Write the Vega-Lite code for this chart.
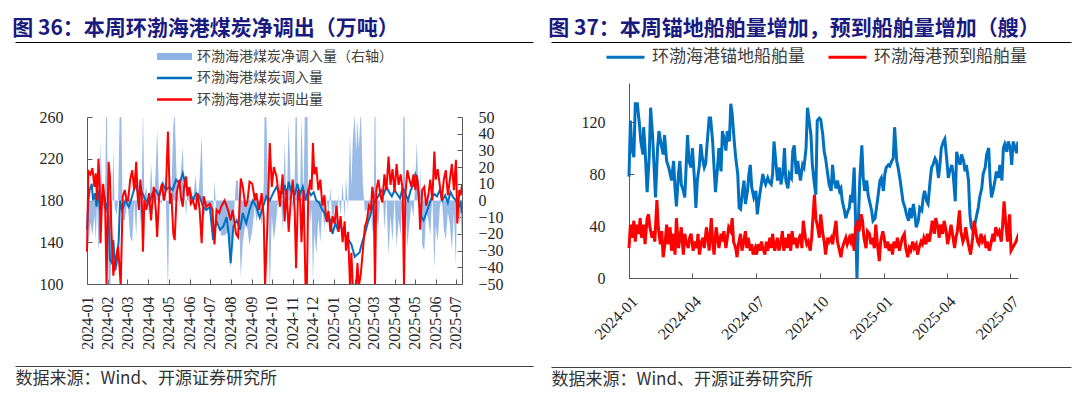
{
"$schema":"https://vega.github.io/schema/vega-lite/v6.json",
"background":"white",
"padding":{"left":12,"top":18,"right":0,"bottom":0},
"config":{"view":{"stroke":null},"font":"Noto Sans CJK SC",
"axis":{"domainColor":"#595959","tickColor":"#595959","labelFont":"Liberation Serif","labelFontSize":16,"labelColor":"#262626","grid":false,"tickSize":-5,"labelOverlap":false,"labelFlush":false,"labelBound":false}},
"datasets":{
"inflow":[{"d":"2024-01-01","v":152},{"d":"2024-01-03","v":180},{"d":"2024-01-05","v":190},{"d":"2024-01-08","v":196},{"d":"2024-01-10","v":180},{"d":"2024-01-13","v":187},{"d":"2024-01-15","v":174},{"d":"2024-01-18","v":190},{"d":"2024-01-20","v":171},{"d":"2024-01-23","v":184},{"d":"2024-01-25","v":190},{"d":"2024-01-28","v":180},{"d":"2024-01-30","v":174},{"d":"2024-02-02","v":164},{"d":"2024-02-04","v":123},{"d":"2024-02-07","v":120},{"d":"2024-02-09","v":142},{"d":"2024-02-12","v":113},{"d":"2024-02-14","v":120},{"d":"2024-02-17","v":142},{"d":"2024-02-19","v":180},{"d":"2024-02-22","v":171},{"d":"2024-02-24","v":174},{"d":"2024-02-27","v":180},{"d":"2024-03-03","v":174},{"d":"2024-03-08","v":184},{"d":"2024-03-13","v":196},{"d":"2024-03-18","v":184},{"d":"2024-03-23","v":187},{"d":"2024-03-28","v":180},{"d":"2024-04-02","v":177},{"d":"2024-04-07","v":187},{"d":"2024-04-12","v":190},{"d":"2024-04-17","v":184},{"d":"2024-04-22","v":196},{"d":"2024-04-27","v":190},{"d":"2024-05-02","v":193},{"d":"2024-05-07","v":190},{"d":"2024-05-12","v":200},{"d":"2024-05-17","v":196},{"d":"2024-05-22","v":206},{"d":"2024-05-27","v":193},{"d":"2024-06-01","v":190},{"d":"2024-06-06","v":180},{"d":"2024-06-11","v":187},{"d":"2024-06-16","v":184},{"d":"2024-06-21","v":174},{"d":"2024-06-26","v":171},{"d":"2024-07-01","v":174},{"d":"2024-07-06","v":142},{"d":"2024-07-11","v":161},{"d":"2024-07-16","v":152},{"d":"2024-07-21","v":155},{"d":"2024-07-26","v":164},{"d":"2024-07-29","v":148},{"d":"2024-08-01","v":120},{"d":"2024-08-05","v":155},{"d":"2024-08-10","v":161},{"d":"2024-08-15","v":152},{"d":"2024-08-19","v":168},{"d":"2024-08-24","v":158},{"d":"2024-08-29","v":171},{"d":"2024-09-03","v":180},{"d":"2024-09-08","v":174},{"d":"2024-09-13","v":164},{"d":"2024-09-18","v":174},{"d":"2024-09-23","v":184},{"d":"2024-09-28","v":180},{"d":"2024-10-03","v":187},{"d":"2024-10-08","v":193},{"d":"2024-10-13","v":187},{"d":"2024-10-17","v":187},{"d":"2024-10-20","v":195},{"d":"2024-10-23","v":185},{"d":"2024-10-26","v":198},{"d":"2024-10-29","v":190},{"d":"2024-11-01","v":192},{"d":"2024-11-04","v":185},{"d":"2024-11-08","v":196},{"d":"2024-11-12","v":186},{"d":"2024-11-16","v":193},{"d":"2024-11-20","v":180},{"d":"2024-11-24","v":190},{"d":"2024-11-28","v":185},{"d":"2024-12-02","v":188},{"d":"2024-12-06","v":180},{"d":"2024-12-10","v":178},{"d":"2024-12-14","v":172},{"d":"2024-12-18","v":168},{"d":"2024-12-22","v":160},{"d":"2024-12-26","v":162},{"d":"2024-12-30","v":148},{"d":"2025-01-03","v":158},{"d":"2025-01-07","v":152},{"d":"2025-01-11","v":156},{"d":"2025-01-15","v":150},{"d":"2025-01-19","v":146},{"d":"2025-01-23","v":142},{"d":"2025-01-27","v":138},{"d":"2025-02-01","v":126},{"d":"2025-02-04","v":128},{"d":"2025-02-08","v":130},{"d":"2025-02-12","v":140},{"d":"2025-02-16","v":148},{"d":"2025-02-20","v":158},{"d":"2025-02-24","v":166},{"d":"2025-02-28","v":175},{"d":"2025-03-04","v":180},{"d":"2025-03-08","v":184},{"d":"2025-03-12","v":190},{"d":"2025-03-16","v":186},{"d":"2025-03-20","v":193},{"d":"2025-03-24","v":188},{"d":"2025-03-28","v":184},{"d":"2025-04-01","v":190},{"d":"2025-04-05","v":186},{"d":"2025-04-09","v":182},{"d":"2025-04-13","v":192},{"d":"2025-04-17","v":187},{"d":"2025-04-21","v":180},{"d":"2025-04-25","v":190},{"d":"2025-04-29","v":195},{"d":"2025-05-02","v":205},{"d":"2025-05-05","v":200},{"d":"2025-05-08","v":175},{"d":"2025-05-11","v":164},{"d":"2025-05-14","v":161},{"d":"2025-05-18","v":168},{"d":"2025-05-22","v":175},{"d":"2025-05-26","v":183},{"d":"2025-05-30","v":186},{"d":"2025-06-03","v":184},{"d":"2025-06-07","v":190},{"d":"2025-06-11","v":180},{"d":"2025-06-15","v":185},{"d":"2025-06-19","v":178},{"d":"2025-06-23","v":188},{"d":"2025-06-27","v":183},{"d":"2025-07-01","v":180},{"d":"2025-07-05","v":174},{"d":"2025-07-08","v":178},{"d":"2025-07-10","v":168}],
"outflow":[{"d":"2024-01-01","v":131},{"d":"2024-01-03","v":208},{"d":"2024-01-06","v":205},{"d":"2024-01-09","v":211},{"d":"2024-01-12","v":193},{"d":"2024-01-14","v":206},{"d":"2024-01-16","v":180},{"d":"2024-01-18","v":220},{"d":"2024-01-20","v":193},{"d":"2024-01-21","v":139},{"d":"2024-01-23","v":174},{"d":"2024-01-25","v":196},{"d":"2024-01-28","v":171},{"d":"2024-01-30","v":98},{"d":"2024-02-02","v":217},{"d":"2024-02-04","v":203},{"d":"2024-02-06","v":155},{"d":"2024-02-09","v":108},{"d":"2024-02-11","v":120},{"d":"2024-02-14","v":129},{"d":"2024-02-16","v":136},{"d":"2024-02-18","v":118},{"d":"2024-02-20","v":98},{"d":"2024-02-23","v":184},{"d":"2024-02-26","v":190},{"d":"2024-02-29","v":180},{"d":"2024-03-02","v":180},{"d":"2024-03-05","v":200},{"d":"2024-03-08","v":209},{"d":"2024-03-11","v":190},{"d":"2024-03-14","v":217},{"d":"2024-03-16","v":185},{"d":"2024-03-18","v":171},{"d":"2024-03-20","v":200},{"d":"2024-03-22","v":187},{"d":"2024-03-24","v":131},{"d":"2024-03-26","v":180},{"d":"2024-03-29","v":171},{"d":"2024-04-02","v":187},{"d":"2024-04-05","v":161},{"d":"2024-04-07","v":180},{"d":"2024-04-09","v":193},{"d":"2024-04-12","v":171},{"d":"2024-04-14","v":145},{"d":"2024-04-17","v":184},{"d":"2024-04-21","v":196},{"d":"2024-04-24","v":180},{"d":"2024-04-27","v":190},{"d":"2024-04-30","v":246},{"d":"2024-05-03","v":177},{"d":"2024-05-05","v":187},{"d":"2024-05-08","v":148},{"d":"2024-05-10","v":142},{"d":"2024-05-13","v":187},{"d":"2024-05-17","v":200},{"d":"2024-05-19","v":184},{"d":"2024-05-22","v":174},{"d":"2024-05-24","v":193},{"d":"2024-05-27","v":203},{"d":"2024-05-29","v":184},{"d":"2024-06-01","v":193},{"d":"2024-06-03","v":177},{"d":"2024-06-06","v":180},{"d":"2024-06-10","v":171},{"d":"2024-06-13","v":187},{"d":"2024-06-16","v":171},{"d":"2024-06-19","v":139},{"d":"2024-06-22","v":184},{"d":"2024-06-26","v":174},{"d":"2024-07-01","v":177},{"d":"2024-07-05","v":171},{"d":"2024-07-08","v":138},{"d":"2024-07-11","v":171},{"d":"2024-07-15","v":168},{"d":"2024-07-18","v":174},{"d":"2024-07-23","v":180},{"d":"2024-07-28","v":171},{"d":"2024-08-01","v":161},{"d":"2024-08-04","v":171},{"d":"2024-08-09","v":148},{"d":"2024-08-12","v":145},{"d":"2024-08-16","v":201},{"d":"2024-08-19","v":193},{"d":"2024-08-23","v":174},{"d":"2024-08-26","v":180},{"d":"2024-08-29","v":198},{"d":"2024-09-02","v":196},{"d":"2024-09-06","v":180},{"d":"2024-09-08","v":187},{"d":"2024-09-12","v":171},{"d":"2024-09-16","v":187},{"d":"2024-09-19","v":164},{"d":"2024-09-21","v":98},{"d":"2024-09-24","v":148},{"d":"2024-09-28","v":235},{"d":"2024-10-01","v":193},{"d":"2024-10-04","v":212},{"d":"2024-10-08","v":203},{"d":"2024-10-13","v":174},{"d":"2024-10-17","v":205},{"d":"2024-10-20","v":160},{"d":"2024-10-23","v":190},{"d":"2024-10-26","v":150},{"d":"2024-10-29","v":180},{"d":"2024-11-01","v":200},{"d":"2024-11-04","v":170},{"d":"2024-11-06","v":115},{"d":"2024-11-09","v":190},{"d":"2024-11-12","v":180},{"d":"2024-11-14","v":140},{"d":"2024-11-17","v":190},{"d":"2024-11-20","v":98},{"d":"2024-11-22","v":98},{"d":"2024-11-24","v":185},{"d":"2024-11-27","v":200},{"d":"2024-11-29","v":190},{"d":"2024-12-01","v":235},{"d":"2024-12-03","v":205},{"d":"2024-12-06","v":212},{"d":"2024-12-09","v":190},{"d":"2024-12-12","v":200},{"d":"2024-12-15","v":175},{"d":"2024-12-18","v":185},{"d":"2024-12-21","v":160},{"d":"2024-12-24","v":170},{"d":"2024-12-27","v":150},{"d":"2024-12-30","v":165},{"d":"2025-01-02","v":158},{"d":"2025-01-05","v":175},{"d":"2025-01-08","v":150},{"d":"2025-01-11","v":165},{"d":"2025-01-14","v":140},{"d":"2025-01-17","v":160},{"d":"2025-01-19","v":132},{"d":"2025-01-22","v":150},{"d":"2025-01-25","v":98},{"d":"2025-01-27","v":130},{"d":"2025-01-29","v":98},{"d":"2025-02-01","v":98},{"d":"2025-02-03","v":98},{"d":"2025-02-05","v":120},{"d":"2025-02-07","v":98},{"d":"2025-02-10","v":110},{"d":"2025-02-13","v":132},{"d":"2025-02-16","v":155},{"d":"2025-02-19","v":161},{"d":"2025-02-22","v":175},{"d":"2025-02-25","v":171},{"d":"2025-02-27","v":193},{"d":"2025-03-01","v":185},{"d":"2025-03-03","v":98},{"d":"2025-03-05","v":190},{"d":"2025-03-08","v":200},{"d":"2025-03-11","v":185},{"d":"2025-03-14","v":178},{"d":"2025-03-17","v":205},{"d":"2025-03-20","v":190},{"d":"2025-03-23","v":222},{"d":"2025-03-26","v":195},{"d":"2025-03-29","v":210},{"d":"2025-04-01","v":188},{"d":"2025-04-04","v":215},{"d":"2025-04-07","v":195},{"d":"2025-04-10","v":205},{"d":"2025-04-13","v":190},{"d":"2025-04-15","v":98},{"d":"2025-04-17","v":185},{"d":"2025-04-20","v":209},{"d":"2025-04-23","v":200},{"d":"2025-04-26","v":193},{"d":"2025-04-29","v":205},{"d":"2025-05-02","v":190},{"d":"2025-05-04","v":204},{"d":"2025-05-07","v":185},{"d":"2025-05-09","v":152},{"d":"2025-05-12","v":190},{"d":"2025-05-15","v":193},{"d":"2025-05-18","v":175},{"d":"2025-05-21","v":185},{"d":"2025-05-24","v":200},{"d":"2025-05-27","v":180},{"d":"2025-05-30","v":227},{"d":"2025-06-01","v":200},{"d":"2025-06-04","v":210},{"d":"2025-06-07","v":195},{"d":"2025-06-10","v":180},{"d":"2025-06-13","v":200},{"d":"2025-06-16","v":209},{"d":"2025-06-19","v":185},{"d":"2025-06-22","v":200},{"d":"2025-06-25","v":215},{"d":"2025-06-28","v":190},{"d":"2025-07-01","v":219},{"d":"2025-07-03","v":158},{"d":"2025-07-06","v":190},{"d":"2025-07-08","v":185},{"d":"2025-07-10","v":195}],
"net":[{"d":"2024-01-01","v":21},{"d":"2024-01-03","v":-28},{"d":"2024-01-06","v":-13},{"d":"2024-01-09","v":-21},{"d":"2024-01-12","v":-9},{"d":"2024-01-14","v":-24},{"d":"2024-01-16","v":0},{"d":"2024-01-18","v":-30},{"d":"2024-01-20","v":-22},{"d":"2024-01-21","v":36},{"d":"2024-01-23","v":10},{"d":"2024-01-25","v":-6},{"d":"2024-01-28","v":9},{"d":"2024-01-30","v":74},{"d":"2024-02-02","v":-53},{"d":"2024-02-04","v":-60},{"d":"2024-02-06","v":-34},{"d":"2024-02-09","v":32},{"d":"2024-02-11","v":-4},{"d":"2024-02-14","v":-9},{"d":"2024-02-16","v":-1},{"d":"2024-02-18","v":42},{"d":"2024-02-20","v":78},{"d":"2024-02-23","v":-12},{"d":"2024-02-26","v":-12},{"d":"2024-02-29","v":-3},{"d":"2024-03-02","v":-5},{"d":"2024-03-05","v":-22},{"d":"2024-03-08","v":-25},{"d":"2024-03-11","v":0},{"d":"2024-03-14","v":-22},{"d":"2024-03-16","v":4},{"d":"2024-03-18","v":13},{"d":"2024-03-20","v":-15},{"d":"2024-03-22","v":0},{"d":"2024-03-24","v":55},{"d":"2024-03-26","v":3},{"d":"2024-03-29","v":8},{"d":"2024-04-02","v":-10},{"d":"2024-04-05","v":22},{"d":"2024-04-07","v":7},{"d":"2024-04-09","v":-5},{"d":"2024-04-12","v":19},{"d":"2024-04-14","v":43},{"d":"2024-04-17","v":0},{"d":"2024-04-21","v":-2},{"d":"2024-04-24","v":14},{"d":"2024-04-27","v":0},{"d":"2024-04-30","v":-54},{"d":"2024-05-03","v":15},{"d":"2024-05-05","v":4},{"d":"2024-05-08","v":44},{"d":"2024-05-10","v":54},{"d":"2024-05-13","v":12},{"d":"2024-05-17","v":-4},{"d":"2024-05-19","v":16},{"d":"2024-05-22","v":32},{"d":"2024-05-24","v":8},{"d":"2024-05-27","v":-10},{"d":"2024-05-29","v":8},{"d":"2024-06-01","v":-3},{"d":"2024-06-03","v":9},{"d":"2024-06-06","v":0},{"d":"2024-06-10","v":15},{"d":"2024-06-13","v":-1},{"d":"2024-06-16","v":13},{"d":"2024-06-19","v":39},{"d":"2024-06-22","v":-11},{"d":"2024-06-26","v":-3},{"d":"2024-07-01","v":-3},{"d":"2024-07-05","v":-23},{"d":"2024-07-08","v":12},{"d":"2024-07-11","v":-10},{"d":"2024-07-15","v":-14},{"d":"2024-07-18","v":-21},{"d":"2024-07-23","v":-21},{"d":"2024-07-28","v":-19},{"d":"2024-08-01","v":-41},{"d":"2024-08-04","v":-21},{"d":"2024-08-09","v":12},{"d":"2024-08-12","v":12},{"d":"2024-08-16","v":-46},{"d":"2024-08-19","v":-25},{"d":"2024-08-23","v":-14},{"d":"2024-08-26","v":-17},{"d":"2024-08-29","v":-27},{"d":"2024-09-02","v":-18},{"d":"2024-09-06","v":-3},{"d":"2024-09-08","v":-13},{"d":"2024-09-12","v":-5},{"d":"2024-09-16","v":-15},{"d":"2024-09-19","v":10},{"d":"2024-09-21","v":78},{"d":"2024-09-24","v":35},{"d":"2024-09-28","v":-55},{"d":"2024-10-01","v":-9},{"d":"2024-10-04","v":-24},{"d":"2024-10-08","v":-10},{"d":"2024-10-13","v":13},{"d":"2024-10-17","v":-18},{"d":"2024-10-20","v":35},{"d":"2024-10-23","v":-5},{"d":"2024-10-26","v":48},{"d":"2024-10-29","v":10},{"d":"2024-11-01","v":-8},{"d":"2024-11-04","v":15},{"d":"2024-11-06","v":75},{"d":"2024-11-09","v":3},{"d":"2024-11-12","v":6},{"d":"2024-11-14","v":50},{"d":"2024-11-17","v":1},{"d":"2024-11-20","v":80},{"d":"2024-11-22","v":87},{"d":"2024-11-24","v":5},{"d":"2024-11-27","v":-14},{"d":"2024-11-29","v":-4},{"d":"2024-12-01","v":-48},{"d":"2024-12-03","v":-19},{"d":"2024-12-06","v":-32},{"d":"2024-12-09","v":-11},{"d":"2024-12-12","v":-25},{"d":"2024-12-15","v":-4},{"d":"2024-12-18","v":-17},{"d":"2024-12-21","v":2},{"d":"2024-12-24","v":-9},{"d":"2024-12-27","v":8},{"d":"2024-12-30","v":-17},{"d":"2025-01-02","v":-3},{"d":"2025-01-05","v":-20},{"d":"2025-01-08","v":3},{"d":"2025-01-11","v":-9},{"d":"2025-01-14","v":11},{"d":"2025-01-17","v":-12},{"d":"2025-01-19","v":14},{"d":"2025-01-22","v":-6},{"d":"2025-01-25","v":40},{"d":"2025-01-27","v":8},{"d":"2025-01-29","v":36},{"d":"2025-02-01","v":52},{"d":"2025-02-03","v":29},{"d":"2025-02-05","v":48},{"d":"2025-02-07","v":31},{"d":"2025-02-10","v":55},{"d":"2025-02-13","v":10},{"d":"2025-02-16","v":-7},{"d":"2025-02-19","v":-5},{"d":"2025-02-22","v":-13},{"d":"2025-02-25","v":-3},{"d":"2025-02-27","v":-20},{"d":"2025-03-01","v":-9},{"d":"2025-03-03","v":80},{"d":"2025-03-05","v":-9},{"d":"2025-03-08","v":-16},{"d":"2025-03-11","v":4},{"d":"2025-03-14","v":10},{"d":"2025-03-17","v":-18},{"d":"2025-03-20","v":3},{"d":"2025-03-23","v":-33},{"d":"2025-03-26","v":-9},{"d":"2025-03-29","v":-25},{"d":"2025-04-01","v":2},{"d":"2025-04-04","v":-28},{"d":"2025-04-07","v":-11},{"d":"2025-04-10","v":-21},{"d":"2025-04-13","v":2},{"d":"2025-04-15","v":92},{"d":"2025-04-17","v":2},{"d":"2025-04-20","v":-28},{"d":"2025-04-23","v":-14},{"d":"2025-04-26","v":-2},{"d":"2025-04-29","v":-10},{"d":"2025-05-02","v":15},{"d":"2025-05-04","v":35},{"d":"2025-05-07","v":-2},{"d":"2025-05-09","v":20},{"d":"2025-05-12","v":-27},{"d":"2025-05-15","v":-30},{"d":"2025-05-18","v":-7},{"d":"2025-05-21","v":-12},{"d":"2025-05-24","v":-21},{"d":"2025-05-27","v":4},{"d":"2025-05-30","v":-41},{"d":"2025-06-01","v":-15},{"d":"2025-06-04","v":-25},{"d":"2025-06-07","v":-5},{"d":"2025-06-10","v":2},{"d":"2025-06-13","v":-17},{"d":"2025-06-16","v":-24},{"d":"2025-06-19","v":-7},{"d":"2025-06-22","v":-14},{"d":"2025-06-25","v":-30},{"d":"2025-06-28","v":-7},{"d":"2025-07-01","v":-39},{"d":"2025-07-03","v":19},{"d":"2025-07-06","v":-15},{"d":"2025-07-08","v":-7},{"d":"2025-07-10","v":-27}],
"anchor":[{"d":"2024-01-01","v":78},{"d":"2024-01-03","v":121},{"d":"2024-01-05","v":100},{"d":"2024-01-08","v":93},{"d":"2024-01-10","v":134},{"d":"2024-01-13","v":134},{"d":"2024-01-16","v":118},{"d":"2024-01-18","v":105},{"d":"2024-01-21","v":95},{"d":"2024-01-22","v":116},{"d":"2024-01-24","v":100},{"d":"2024-01-27","v":66},{"d":"2024-01-30","v":93},{"d":"2024-02-01","v":131},{"d":"2024-02-04","v":108},{"d":"2024-02-06","v":85},{"d":"2024-02-08","v":62},{"d":"2024-02-11","v":100},{"d":"2024-02-13","v":113},{"d":"2024-02-16","v":103},{"d":"2024-02-19","v":95},{"d":"2024-02-21","v":110},{"d":"2024-02-24","v":90},{"d":"2024-02-27","v":85},{"d":"2024-03-02","v":75},{"d":"2024-03-05","v":90},{"d":"2024-03-07","v":69},{"d":"2024-03-09","v":55},{"d":"2024-03-12","v":80},{"d":"2024-03-14","v":90},{"d":"2024-03-16","v":72},{"d":"2024-03-19","v":67},{"d":"2024-03-21","v":62},{"d":"2024-03-25","v":110},{"d":"2024-03-27","v":90},{"d":"2024-03-30","v":85},{"d":"2024-04-01","v":100},{"d":"2024-04-04","v":75},{"d":"2024-04-06","v":54},{"d":"2024-04-08","v":75},{"d":"2024-04-11","v":87},{"d":"2024-04-13","v":103},{"d":"2024-04-15","v":93},{"d":"2024-04-18","v":85},{"d":"2024-04-20","v":88},{"d":"2024-04-22","v":103},{"d":"2024-04-25","v":123},{"d":"2024-04-27","v":123},{"d":"2024-04-30","v":105},{"d":"2024-05-02","v":85},{"d":"2024-05-04","v":66},{"d":"2024-05-07","v":85},{"d":"2024-05-09","v":100},{"d":"2024-05-12","v":82},{"d":"2024-05-14","v":113},{"d":"2024-05-16","v":108},{"d":"2024-05-19","v":98},{"d":"2024-05-21","v":113},{"d":"2024-05-24","v":105},{"d":"2024-05-26","v":134},{"d":"2024-05-28","v":126},{"d":"2024-05-31","v":105},{"d":"2024-06-02","v":93},{"d":"2024-06-05","v":80},{"d":"2024-06-07","v":54},{"d":"2024-06-09","v":53},{"d":"2024-06-12","v":67},{"d":"2024-06-14","v":75},{"d":"2024-06-16","v":57},{"d":"2024-06-19","v":67},{"d":"2024-06-21","v":80},{"d":"2024-06-23","v":87},{"d":"2024-06-25","v":70},{"d":"2024-06-28","v":62},{"d":"2024-07-01","v":67},{"d":"2024-07-03","v":49},{"d":"2024-07-06","v":62},{"d":"2024-07-08","v":69},{"d":"2024-07-11","v":80},{"d":"2024-07-13","v":75},{"d":"2024-07-15","v":72},{"d":"2024-07-18","v":77},{"d":"2024-07-20","v":74},{"d":"2024-07-23","v":72},{"d":"2024-07-25","v":80},{"d":"2024-07-27","v":105},{"d":"2024-07-30","v":87},{"d":"2024-08-01","v":75},{"d":"2024-08-04","v":85},{"d":"2024-08-06","v":72},{"d":"2024-08-09","v":82},{"d":"2024-08-11","v":100},{"d":"2024-08-13","v":75},{"d":"2024-08-16","v":69},{"d":"2024-08-18","v":80},{"d":"2024-08-21","v":77},{"d":"2024-08-23","v":98},{"d":"2024-08-25","v":102},{"d":"2024-08-28","v":80},{"d":"2024-08-30","v":90},{"d":"2024-09-01","v":82},{"d":"2024-09-03","v":75},{"d":"2024-09-06","v":87},{"d":"2024-09-08","v":85},{"d":"2024-09-11","v":100},{"d":"2024-09-13","v":131},{"d":"2024-09-15","v":123},{"d":"2024-09-18","v":110},{"d":"2024-09-20","v":87},{"d":"2024-09-23","v":72},{"d":"2024-09-25","v":64},{"d":"2024-09-27","v":121},{"d":"2024-09-30","v":123},{"d":"2024-10-02","v":122},{"d":"2024-10-05","v":110},{"d":"2024-10-07","v":97},{"d":"2024-10-09","v":92},{"d":"2024-10-12","v":80},{"d":"2024-10-14","v":72},{"d":"2024-10-17","v":67},{"d":"2024-10-19","v":87},{"d":"2024-10-21","v":75},{"d":"2024-10-24","v":69},{"d":"2024-10-26","v":75},{"d":"2024-10-29","v":67},{"d":"2024-10-31","v":69},{"d":"2024-11-02","v":59},{"d":"2024-11-05","v":52},{"d":"2024-11-07","v":46},{"d":"2024-11-09","v":50},{"d":"2024-11-12","v":54},{"d":"2024-11-14","v":64},{"d":"2024-11-16","v":58},{"d":"2024-11-19","v":85},{"d":"2024-11-21","v":44},{"d":"2024-11-23","v":0},{"d":"2024-11-25","v":44},{"d":"2024-11-27","v":75},{"d":"2024-11-30","v":102},{"d":"2024-12-02","v":77},{"d":"2024-12-04","v":67},{"d":"2024-12-07","v":75},{"d":"2024-12-09","v":64},{"d":"2024-12-11","v":59},{"d":"2024-12-14","v":52},{"d":"2024-12-16","v":44},{"d":"2024-12-19","v":46},{"d":"2024-12-21","v":54},{"d":"2024-12-23","v":62},{"d":"2024-12-26","v":75},{"d":"2024-12-28","v":77},{"d":"2024-12-31","v":67},{"d":"2025-01-02","v":80},{"d":"2025-01-04","v":85},{"d":"2025-01-07","v":87},{"d":"2025-01-09","v":86},{"d":"2025-01-12","v":90},{"d":"2025-01-14","v":92},{"d":"2025-01-16","v":116},{"d":"2025-01-19","v":90},{"d":"2025-01-21","v":85},{"d":"2025-01-24","v":75},{"d":"2025-01-26","v":67},{"d":"2025-01-28","v":59},{"d":"2025-01-31","v":54},{"d":"2025-02-02","v":49},{"d":"2025-02-05","v":44},{"d":"2025-02-07","v":54},{"d":"2025-02-09","v":46},{"d":"2025-02-12","v":57},{"d":"2025-02-14","v":49},{"d":"2025-02-16","v":39},{"d":"2025-02-19","v":44},{"d":"2025-02-21","v":54},{"d":"2025-02-24","v":52},{"d":"2025-02-26","v":62},{"d":"2025-02-28","v":67},{"d":"2025-03-03","v":59},{"d":"2025-03-05","v":57},{"d":"2025-03-08","v":75},{"d":"2025-03-10","v":85},{"d":"2025-03-12","v":87},{"d":"2025-03-15","v":92},{"d":"2025-03-17","v":90},{"d":"2025-03-20","v":77},{"d":"2025-03-22","v":87},{"d":"2025-03-24","v":100},{"d":"2025-03-27","v":105},{"d":"2025-03-29","v":107},{"d":"2025-04-01","v":90},{"d":"2025-04-03","v":77},{"d":"2025-04-05","v":82},{"d":"2025-04-08","v":87},{"d":"2025-04-10","v":80},{"d":"2025-04-13","v":59},{"d":"2025-04-15","v":97},{"d":"2025-04-17","v":92},{"d":"2025-04-20","v":87},{"d":"2025-04-22","v":95},{"d":"2025-04-25","v":90},{"d":"2025-04-27","v":82},{"d":"2025-04-29","v":87},{"d":"2025-05-02","v":75},{"d":"2025-05-04","v":49},{"d":"2025-05-06","v":39},{"d":"2025-05-09","v":36},{"d":"2025-05-11","v":41},{"d":"2025-05-14","v":49},{"d":"2025-05-16","v":54},{"d":"2025-05-18","v":62},{"d":"2025-05-21","v":69},{"d":"2025-05-23","v":80},{"d":"2025-05-26","v":85},{"d":"2025-05-28","v":95},{"d":"2025-05-31","v":100},{"d":"2025-06-02","v":75},{"d":"2025-06-04","v":62},{"d":"2025-06-07","v":69},{"d":"2025-06-09","v":75},{"d":"2025-06-11","v":82},{"d":"2025-06-14","v":77},{"d":"2025-06-16","v":87},{"d":"2025-06-19","v":75},{"d":"2025-06-21","v":100},{"d":"2025-06-23","v":103},{"d":"2025-06-26","v":97},{"d":"2025-06-28","v":105},{"d":"2025-07-01","v":100},{"d":"2025-07-03","v":87},{"d":"2025-07-05","v":105},{"d":"2025-07-08","v":100},{"d":"2025-07-10","v":96},{"d":"2025-07-12","v":105}],
"arrive":[{"d":"2024-01-01","v":23},{"d":"2024-01-03","v":41},{"d":"2024-01-05","v":31},{"d":"2024-01-08","v":44},{"d":"2024-01-10","v":28},{"d":"2024-01-12","v":41},{"d":"2024-01-15","v":34},{"d":"2024-01-17","v":46},{"d":"2024-01-19","v":31},{"d":"2024-01-22","v":41},{"d":"2024-01-24","v":26},{"d":"2024-01-27","v":46},{"d":"2024-01-29","v":49},{"d":"2024-01-31","v":39},{"d":"2024-02-03","v":31},{"d":"2024-02-05","v":36},{"d":"2024-02-07","v":28},{"d":"2024-02-10","v":60},{"d":"2024-02-12","v":39},{"d":"2024-02-15","v":26},{"d":"2024-02-17","v":36},{"d":"2024-02-19","v":16},{"d":"2024-02-22","v":28},{"d":"2024-02-24","v":41},{"d":"2024-02-26","v":26},{"d":"2024-02-29","v":39},{"d":"2024-03-02","v":21},{"d":"2024-03-05","v":34},{"d":"2024-03-07","v":18},{"d":"2024-03-09","v":46},{"d":"2024-03-12","v":23},{"d":"2024-03-14","v":31},{"d":"2024-03-16","v":39},{"d":"2024-03-19","v":18},{"d":"2024-03-21","v":34},{"d":"2024-03-23","v":28},{"d":"2024-03-26","v":23},{"d":"2024-03-28","v":31},{"d":"2024-03-30","v":34},{"d":"2024-04-02","v":21},{"d":"2024-04-04","v":28},{"d":"2024-04-07","v":23},{"d":"2024-04-09","v":34},{"d":"2024-04-11","v":18},{"d":"2024-04-14","v":28},{"d":"2024-04-16","v":31},{"d":"2024-04-18","v":23},{"d":"2024-04-21","v":39},{"d":"2024-04-23","v":31},{"d":"2024-04-25","v":21},{"d":"2024-04-28","v":46},{"d":"2024-04-30","v":28},{"d":"2024-05-02","v":18},{"d":"2024-05-05","v":39},{"d":"2024-05-07","v":31},{"d":"2024-05-09","v":23},{"d":"2024-05-12","v":34},{"d":"2024-05-14","v":28},{"d":"2024-05-16","v":36},{"d":"2024-05-19","v":23},{"d":"2024-05-21","v":31},{"d":"2024-05-23","v":39},{"d":"2024-05-26","v":36},{"d":"2024-05-28","v":46},{"d":"2024-05-30","v":28},{"d":"2024-06-02","v":23},{"d":"2024-06-04","v":16},{"d":"2024-06-06","v":26},{"d":"2024-06-09","v":34},{"d":"2024-06-11","v":21},{"d":"2024-06-13","v":26},{"d":"2024-06-16","v":36},{"d":"2024-06-18","v":23},{"d":"2024-06-20","v":31},{"d":"2024-06-23","v":21},{"d":"2024-06-25","v":26},{"d":"2024-06-27","v":18},{"d":"2024-06-30","v":23},{"d":"2024-07-02","v":18},{"d":"2024-07-04","v":26},{"d":"2024-07-07","v":21},{"d":"2024-07-09","v":28},{"d":"2024-07-11","v":23},{"d":"2024-07-14","v":18},{"d":"2024-07-16","v":28},{"d":"2024-07-18","v":21},{"d":"2024-07-21","v":31},{"d":"2024-07-23","v":23},{"d":"2024-07-25","v":34},{"d":"2024-07-28","v":21},{"d":"2024-07-30","v":26},{"d":"2024-08-01","v":31},{"d":"2024-08-03","v":21},{"d":"2024-08-06","v":28},{"d":"2024-08-08","v":36},{"d":"2024-08-10","v":21},{"d":"2024-08-13","v":31},{"d":"2024-08-15","v":23},{"d":"2024-08-17","v":34},{"d":"2024-08-20","v":21},{"d":"2024-08-22","v":36},{"d":"2024-08-24","v":26},{"d":"2024-08-27","v":31},{"d":"2024-08-29","v":23},{"d":"2024-08-31","v":28},{"d":"2024-09-03","v":34},{"d":"2024-09-05","v":23},{"d":"2024-09-07","v":44},{"d":"2024-09-10","v":31},{"d":"2024-09-12","v":26},{"d":"2024-09-14","v":28},{"d":"2024-09-17","v":21},{"d":"2024-09-19","v":31},{"d":"2024-09-23","v":64},{"d":"2024-09-25","v":46},{"d":"2024-09-28","v":38},{"d":"2024-09-30","v":31},{"d":"2024-10-02","v":49},{"d":"2024-10-05","v":34},{"d":"2024-10-07","v":28},{"d":"2024-10-09","v":18},{"d":"2024-10-12","v":31},{"d":"2024-10-14","v":28},{"d":"2024-10-17","v":31},{"d":"2024-10-19","v":26},{"d":"2024-10-21","v":34},{"d":"2024-10-24","v":44},{"d":"2024-10-26","v":28},{"d":"2024-10-29","v":21},{"d":"2024-10-31","v":16},{"d":"2024-11-02","v":23},{"d":"2024-11-05","v":28},{"d":"2024-11-07","v":31},{"d":"2024-11-09","v":26},{"d":"2024-11-12","v":31},{"d":"2024-11-14","v":28},{"d":"2024-11-16","v":34},{"d":"2024-11-19","v":21},{"d":"2024-11-21","v":39},{"d":"2024-11-24","v":44},{"d":"2024-11-26","v":36},{"d":"2024-11-29","v":49},{"d":"2024-12-01","v":44},{"d":"2024-12-03","v":31},{"d":"2024-12-06","v":23},{"d":"2024-12-08","v":36},{"d":"2024-12-11","v":34},{"d":"2024-12-13","v":26},{"d":"2024-12-15","v":31},{"d":"2024-12-18","v":23},{"d":"2024-12-20","v":41},{"d":"2024-12-22","v":28},{"d":"2024-12-25","v":13},{"d":"2024-12-27","v":28},{"d":"2024-12-30","v":36},{"d":"2025-01-01","v":31},{"d":"2025-01-03","v":23},{"d":"2025-01-06","v":28},{"d":"2025-01-08","v":21},{"d":"2025-01-11","v":26},{"d":"2025-01-13","v":18},{"d":"2025-01-15","v":28},{"d":"2025-01-18","v":23},{"d":"2025-01-20","v":31},{"d":"2025-01-23","v":21},{"d":"2025-01-25","v":26},{"d":"2025-01-27","v":31},{"d":"2025-01-30","v":34},{"d":"2025-02-01","v":23},{"d":"2025-02-04","v":16},{"d":"2025-02-06","v":23},{"d":"2025-02-08","v":21},{"d":"2025-02-11","v":28},{"d":"2025-02-13","v":23},{"d":"2025-02-16","v":26},{"d":"2025-02-18","v":18},{"d":"2025-02-20","v":23},{"d":"2025-02-23","v":28},{"d":"2025-02-25","v":26},{"d":"2025-02-27","v":31},{"d":"2025-03-02","v":26},{"d":"2025-03-04","v":34},{"d":"2025-03-07","v":28},{"d":"2025-03-09","v":36},{"d":"2025-03-11","v":44},{"d":"2025-03-14","v":34},{"d":"2025-03-16","v":46},{"d":"2025-03-19","v":39},{"d":"2025-03-21","v":31},{"d":"2025-03-23","v":41},{"d":"2025-03-26","v":34},{"d":"2025-03-28","v":44},{"d":"2025-03-31","v":36},{"d":"2025-04-02","v":26},{"d":"2025-04-04","v":31},{"d":"2025-04-07","v":41},{"d":"2025-04-09","v":34},{"d":"2025-04-12","v":23},{"d":"2025-04-14","v":31},{"d":"2025-04-16","v":36},{"d":"2025-04-19","v":52},{"d":"2025-04-21","v":36},{"d":"2025-04-24","v":28},{"d":"2025-04-26","v":31},{"d":"2025-04-28","v":39},{"d":"2025-05-01","v":28},{"d":"2025-05-03","v":23},{"d":"2025-05-05","v":18},{"d":"2025-05-08","v":31},{"d":"2025-05-10","v":44},{"d":"2025-05-13","v":34},{"d":"2025-05-15","v":28},{"d":"2025-05-17","v":26},{"d":"2025-05-20","v":34},{"d":"2025-05-22","v":28},{"d":"2025-05-25","v":31},{"d":"2025-05-27","v":23},{"d":"2025-05-29","v":28},{"d":"2025-06-01","v":21},{"d":"2025-06-03","v":26},{"d":"2025-06-06","v":34},{"d":"2025-06-08","v":28},{"d":"2025-06-10","v":39},{"d":"2025-06-13","v":34},{"d":"2025-06-15","v":36},{"d":"2025-06-18","v":28},{"d":"2025-06-20","v":41},{"d":"2025-06-22","v":59},{"d":"2025-06-25","v":39},{"d":"2025-06-27","v":28},{"d":"2025-06-30","v":49},{"d":"2025-07-02","v":21},{"d":"2025-07-04","v":23},{"d":"2025-07-07","v":26},{"d":"2025-07-09","v":28},{"d":"2025-07-11","v":31},{"d":"2025-07-12","v":28}]
},
"spacing":12,
"resolve":{"scale":{"color":"independent"},"legend":{"color":"independent"}},
"hconcat":[
{"spacing":2,"vconcat":[
 {"width":518,"height":65,
  "title":{"text":"图 36：本周环渤海港煤炭净调出（万吨）","anchor":"start","fontSize":21,"fontWeight":"bold","font":"Noto Sans CJK SC","color":"#1a1a7e","offset":3},
  "data":{"values":[{"a":0},{"a":1}]},
  "mark":{"type":"point","opacity":0},
  "encoding":{"x":{"field":"a","type":"quantitative","axis":{"orient":"top","title":null,"labels":false,"ticks":false,"domainColor":"#000000","domainWidth":1}}}},
 {"width":447,"height":167,
  "layer":[
   {"data":{"name":"net"},
    "mark":{"type":"area","color":"#8EB4E3","opacity":0.9,"clip":true},
    "encoding":{
     "x":{"field":"d","type":"temporal","scale":{"domain":[{"year":2024,"month":1,"date":1},{"year":2025,"month":7,"date":10}],"range":[72,447]},"axis":{"title":null,"format":"%Y-%m","tickCount":{"interval":"month","step":1},"labelAngle":-90,"labelPadding":17}},
     "y":{"field":"v","type":"quantitative","scale":{"domain":[-50,50],"nice":false,"zero":true},"axis":{"orient":"right","title":null,"values":[-50,-40,-30,-20,-10,0,10,20,30,40,50],"labelPadding":21}}}},
   {"layer":[
     {"data":{"name":"inflow"},
      "mark":{"type":"line","strokeWidth":2,"clip":true},
      "encoding":{
       "x":{"field":"d","type":"temporal"},
       "y":{"field":"v","type":"quantitative","scale":{"domain":[100,260],"nice":false,"zero":false},"axis":{"title":null,"values":[100,120,140,160,180,200,220,240,260],"labelPadding":29,"offset":-72}},
       "color":{"datum":"环渤海港煤炭调入量","scale":{"domain":["环渤海港煤炭净调入量（右轴）","环渤海港煤炭调入量","环渤海港煤炭调出量"],"range":["#8EB4E3","#0070C0","#FF0000"]},
        "legend":{"orient":"none","legendX":152.5,"legendY":7.5,"direction":"vertical","title":null,"symbolType":"M-3.5,-0.25H3.5V0.25H-3.5Z","symbolSize":100,"symbolStrokeWidth":0,"labelFont":"Noto Sans CJK SC","labelFontSize":14,"labelColor":"#404040","labelOffset":15.5,"rowPadding":7.5,"labelLimit":0,
         "encode":{"symbols":{"update":{
          "shape":{"signal":"datum.value === '环渤海港煤炭净调入量（右轴）' ? 'M-3.5,-0.7H3.5V0.7H-3.5Z' : 'M-3.5,-0.25H3.5V0.25H-3.5Z'"},
          "fill":{"signal":"datum.value === '环渤海港煤炭净调入量（右轴）' ? '#8EB4E3' : (datum.value === '环渤海港煤炭调入量' ? '#0070C0' : '#FF0000')"},
          "fillOpacity":{"value":1},
          "strokeWidth":{"value":0}}}}}}}},
     {"data":{"name":"outflow"},
      "mark":{"type":"line","strokeWidth":2,"clip":true},
      "encoding":{
       "x":{"field":"d","type":"temporal"},
       "y":{"field":"v","type":"quantitative"},
       "color":{"datum":"环渤海港煤炭调出量"}}}
   ]}
  ],
  "resolve":{"scale":{"y":"independent"}}},
 {"width":518,"height":14,
  "data":{"values":[{"a":0},{"a":1}]},
  "mark":{"type":"point","opacity":0},
  "encoding":{"x":{"field":"a","type":"quantitative","axis":{"title":"数据来源：Wind、开源证券研究所","titleAnchor":"start","titleAlign":"left","titleFontSize":17,"titleFontWeight":"normal","titleFont":"Noto Sans CJK SC","titleColor":"#333333","titlePadding":4,"titleLimit":0,"labels":false,"ticks":false,"domainColor":"#404040"}}}}
]},
{"spacing":2,"vconcat":[
 {"width":520,"height":39,
  "title":{"text":"图 37：本周锚地船舶量增加，预到船舶量增加（艘）","anchor":"start","fontSize":21,"fontWeight":"bold","font":"Noto Sans CJK SC","color":"#1a1a7e","offset":3},
  "data":{"values":[{"a":0},{"a":1}]},
  "mark":{"type":"point","opacity":0},
  "encoding":{"x":{"field":"a","type":"quantitative","axis":{"orient":"top","title":null,"labels":false,"ticks":false,"domainColor":"#000000","domainWidth":1}}}},
 {"width":467,"height":195,
  "layer":[
   {"data":{"name":"anchor"},
    "mark":{"type":"line","strokeWidth":3,"clip":true},
    "encoding":{
     "x":{"field":"d","type":"temporal","scale":{"domain":[{"year":2024,"month":1,"date":1},{"year":2025,"month":7,"date":12}],"range":[78,467]},"axis":{"title":null,"format":"%Y-%m","tickCount":{"interval":"month","step":3},"labelAngle":-45,"labelPadding":20}},
     "y":{"field":"v","type":"quantitative","scale":{"domain":[0,150],"nice":false},"axis":{"title":null,"values":[0,20,40,60,80,100,120,140],"labelPadding":29,"offset":-78}},
     "color":{"datum":"环渤海港锚地船舶量","scale":{"domain":["环渤海港锚地船舶量","环渤海港预到船舶量"],"range":["#0070C0","#FF0000"]},
      "legend":{"orient":"none","legendX":66,"legendY":6.5,"direction":"horizontal","title":null,"symbolType":"M-3.8,0H3.8","symbolSize":100,"symbolStrokeWidth":3,"labelFont":"Noto Sans CJK SC","labelFontSize":17,"labelColor":"#404040","labelOffset":18,"columnPadding":17,"labelLimit":0}}}},
   {"data":{"name":"arrive"},
    "mark":{"type":"line","strokeWidth":3,"clip":true},
    "encoding":{
     "x":{"field":"d","type":"temporal"},
     "y":{"field":"v","type":"quantitative"},
     "color":{"datum":"环渤海港预到船舶量"}}}
  ]},
 {"width":520,"height":22,
  "data":{"values":[{"a":0},{"a":1}]},
  "mark":{"type":"point","opacity":0},
  "encoding":{"x":{"field":"a","type":"quantitative","axis":{"title":"数据来源：Wind、开源证券研究所","titleAnchor":"start","titleAlign":"left","titleFontSize":17,"titleFontWeight":"normal","titleFont":"Noto Sans CJK SC","titleColor":"#333333","titlePadding":4,"titleLimit":0,"labels":false,"ticks":false,"domainColor":"#404040"}}}}
]}
]
}
